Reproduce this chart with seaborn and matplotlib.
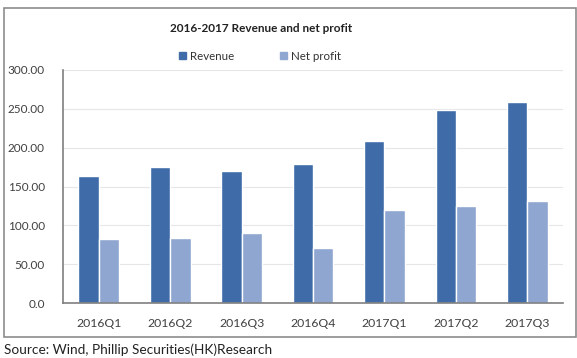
import numpy as np
import pandas as pd
import seaborn as sns
import matplotlib.pyplot as plt
from matplotlib.patches import Rectangle

# Chart data
quarters = ['2016Q1', '2016Q2', '2016Q3', '2016Q4', '2017Q1', '2017Q2', '2017Q3']
revenue = [163.5, 174.7, 170.5, 179.0, 208.5, 248.8, 258.6]
net_profit = [81.8, 83.1, 89.9, 70.2, 119.9, 125.5, 131.4]
series = ['Revenue', 'Net profit']
colors = ['#3f6ca8', '#8ea6d0']

df = pd.DataFrame({'quarter': quarters, 'Revenue': revenue, 'Net profit': net_profit})
df_long = pd.melt(df, id_vars='quarter', value_vars=series, var_name='series', value_name='value')

sns.set_style('white')
plt.rcParams['font.family'] = ['Lato', 'DejaVu Sans']

fig = plt.figure(figsize=(5.77, 3.58), dpi=100)
W, H = 577, 358
ax = fig.add_axes([63 / W, 1 - 303 / H, (563 - 63) / W, (303 - 70) / H])

sns.barplot(data=df_long, x='quarter', y='value', hue='series', palette=colors,
            width=0.57, gap=0, saturation=1, ax=ax, legend=False)

ax.set_ylim(0, 300)
ax.set_xlim(-0.5, len(quarters) - 0.5)
ax.set_yticks(np.arange(0, 301, 50))
ax.set_yticklabels(['0.0'] + [f'{v:.2f}' for v in np.arange(50, 301, 50)])
ax.yaxis.grid(True, color='#e6e6e6', linewidth=0.8)
ax.set_axisbelow(True)
ax.set_xlabel('')
ax.set_ylabel('')

# category ticks at group boundaries
ax.set_xticks(np.arange(len(quarters)))
ax.set_xticklabels(quarters)
ax.set_xticks(np.arange(-0.5, len(quarters)), minor=True)
ax.tick_params(axis='x', which='major', length=0, pad=11, labelsize=8.8, colors='#404040')
ax.tick_params(axis='x', which='minor', length=4, color='#7f7f7f', direction='out')
ax.tick_params(axis='y', length=4, pad=9, color='#7f7f7f', labelsize=8.5, colors='#404040',
               direction='out')

for s in ['top', 'right']:
    ax.spines[s].set_visible(False)
for s in ['left', 'bottom']:
    ax.spines[s].set_color('#7f7f7f')
    ax.spines[s].set_linewidth(1.2)

# legend
handles = [Rectangle((0, 0), 1, 1, color=c) for c in colors]
fig.legend(handles, series, loc='center', bbox_to_anchor=(260 / W, 1 - 56 / H), ncol=2,
           frameon=False, fontsize=8.3, handlelength=0.6, handleheight=0.6,
           handletextpad=0.3, columnspacing=4.0, labelcolor='#333333')

fig.text(261 / W, 1 - 29 / H, '2016-2017 Revenue and net profit', ha='center', va='center',
         fontsize=8.5, fontweight='bold', color='#222222')

# outer frame
fig.patches.append(Rectangle((4 / W, 1 - 337 / H), (576 - 4) / W, (337 - 8) / H,
                             transform=fig.transFigure, fill=False, edgecolor='#8c8c8c',
                             linewidth=1.2))

fig.text(4 / W, 1 - 350 / H, 'Source: Wind, Phillip Securities(HK)Research', ha='left',
         va='center', fontsize=9.8, color='#222222')

fig.savefig('out.png', dpi=100, facecolor='white')
